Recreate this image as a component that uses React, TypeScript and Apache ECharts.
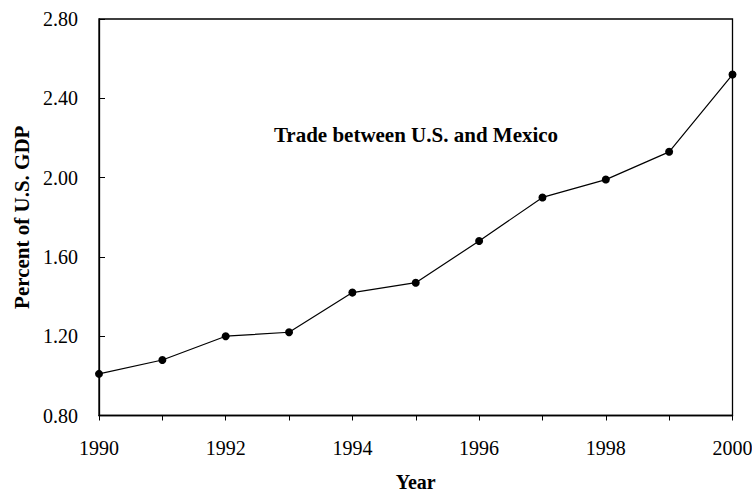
import React, { useEffect, useRef } from "react";
import * as echarts from "echarts";

const years = [1990, 1991, 1992, 1993, 1994, 1995, 1996, 1997, 1998, 1999, 2000];
const tradeShare = [1.01, 1.08, 1.2, 1.22, 1.42, 1.47, 1.68, 1.9, 1.99, 2.13, 2.52];
const chartTitle = "Trade between U.S. and Mexico";
const yName = "Percent of U.S. GDP";
const xName = "Year";

const FONT = "'Liberation Serif', 'Times New Roman', serif";

export default function App() {
  const ref = useRef<HTMLDivElement>(null);
  useEffect(() => {
    if (!ref.current) return;
    const chart = echarts.init(ref.current, null, { renderer: "svg" });
    chart.setOption({
      animation: false,
      backgroundColor: "#fff",
      grid: {
        left: 99,
        top: 19,
        right: 19.5,
        bottom: 79.5,
        outerBoundsMode: "none",
        containLabel: false,
        show: true,
        borderColor: "#000",
        borderWidth: 1.3,
        backgroundColor: "transparent",
      },
      graphic: [
        {
          type: "text",
          x: 416,
          y: 135,
          style: {
            text: chartTitle,
            font: `bold 21px ${FONT}`,
            fill: "#000",
            textAlign: "center",
            textVerticalAlign: "middle",
          },
        },
      ],
      xAxis: {
        type: "value",
        min: 1990,
        max: 2000,
        interval: 1,
        name: xName,
        nameLocation: "middle",
        nameGap: 56,
        nameTextStyle: { fontFamily: FONT, fontWeight: "bold", fontSize: 20, color: "#000", lineHeight: 20 },
        axisLine: { lineStyle: { color: "#000", width: 1.3 } },
        axisTick: { show: true, inside: false, length: 5, lineStyle: { color: "#000", width: 1 } },
        splitLine: { show: false },
        axisLabel: {
          fontFamily: FONT,
          fontSize: 20,
          color: "#000",
          margin: 22,
          formatter: (v: number) => (v % 2 === 0 ? String(v) : ""),
        },
      },
      yAxis: {
        type: "value",
        min: 0.8,
        max: 2.8,
        interval: 0.4,
        name: yName,
        nameLocation: "middle",
        nameGap: 63,
        nameRotate: 90,
        nameTextStyle: { fontFamily: FONT, fontWeight: "bold", fontSize: 21, color: "#000" },
        axisLine: { show: true, lineStyle: { color: "#000", width: 1.3 } },
        axisTick: { show: true, inside: true, length: 6, lineStyle: { color: "#000", width: 1 } },
        splitLine: { show: false },
        axisLabel: {
          fontFamily: FONT,
          fontSize: 20,
          color: "#000",
          margin: 21,
          formatter: (v: number) => v.toFixed(2),
        },
      },
      series: [
        {
          type: "line",
          data: years.map((y, i) => [y, tradeShare[i]]),
          symbol: "circle",
          symbolSize: 8,
          itemStyle: { color: "#000" },
          lineStyle: { color: "#000", width: 1.2 },
        },
      ],
    });
    return () => chart.dispose();
  }, []);
  return (
    <div
      ref={ref}
      style={{ position: "fixed", left: 0, top: 0, width: 752, height: 495, background: "#fff" }}
    />
  );
}
